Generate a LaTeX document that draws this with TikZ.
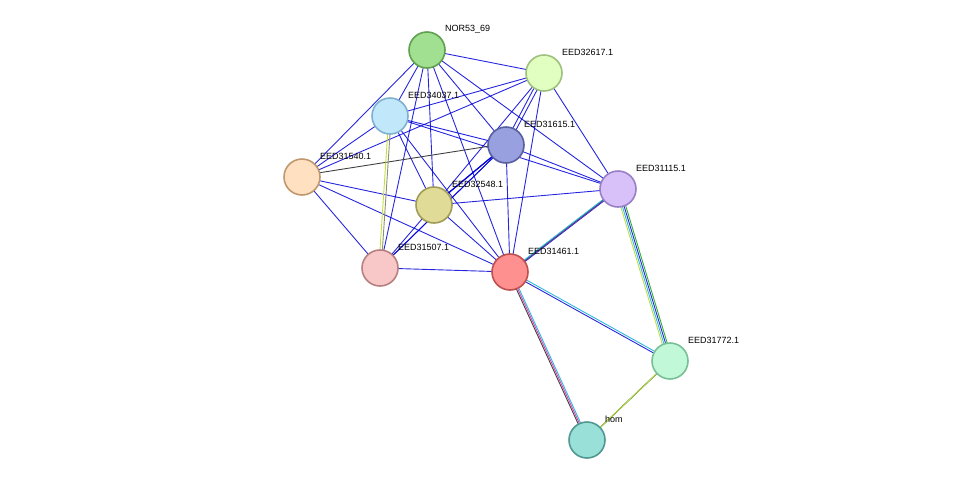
\documentclass[tikz,border=0pt]{standalone}
\usepackage{fontspec}
\setmainfont{Liberation Sans}
\begin{document}
\begin{tikzpicture}[x=1pt,y=-1pt,
  prot/.style={circle,minimum size=36pt,inner sep=0pt,line width=1.6pt},
  lab/.style={font=\fontsize{9}{10}\selectfont,anchor=south west,inner sep=0pt},
  e/.style={blue!85!black,line width=0.9pt,opacity=0.85}]
\useasboundingbox (0,0) rectangle (976,485);
\definecolor{cyanE}{HTML}{30B8E0}
\definecolor{grnE}{HTML}{30B030}
\definecolor{yelE}{HTML}{C0E040}
\definecolor{pinkE}{HTML}{E040B0}
\definecolor{purE}{HTML}{8030C0}
\definecolor{darkE}{HTML}{404040}
\coordinate (pNOR) at (427,50);
\coordinate (p617) at (544,73);
\coordinate (p037) at (390,116);
\coordinate (p615) at (506,145);
\coordinate (p540) at (302,177);
\coordinate (p548) at (434,205);
\coordinate (p115) at (618,189);
\coordinate (p507) at (380,268);
\coordinate (p461) at (510,272);
\coordinate (p772) at (670,361);
\coordinate (phom) at (587,440);
\foreach \a/\b in {NOR/037,NOR/540,NOR/615,NOR/548,NOR/507,NOR/461,NOR/115,NOR/617,
 617/037,617/540,617/548,617/461,617/115,
 037/615,037/115,037/548,037/461,037/540,
 615/548,615/461,615/115,615/507,
 540/548,540/507,540/461,
 548/115,548/461,548/507,507/461}
  \draw[e] (p\a) -- (p\b);
% multi edges
\draw[e,transform canvas={xshift=1.5pt,yshift=-1pt}] (p617) -- (p615);
\draw[e,transform canvas={xshift=-1.5pt,yshift=1pt}] (p617) -- (p615);
\draw[e,transform canvas={xshift=1.5pt,yshift=1.5pt}] (p548) -- (p615);
\draw[e,transform canvas={xshift=-1.5pt,yshift=-1.5pt}] (p548) -- (p615);
\draw[e,transform canvas={xshift=1.5pt,yshift=1.5pt}] (p507) -- (p615);
\draw[darkE,line width=0.9pt,transform canvas={yshift=1.5pt}] (p540) -- (p615);
\draw[yelE,line width=0.9pt,transform canvas={xshift=-1.2pt}] (p037) -- (p507);
\draw[gray!80!olive,line width=0.9pt,transform canvas={xshift=1.2pt}] (p037) -- (p507);
% 461-hom
\draw[darkE,line width=0.9pt,transform canvas={xshift=-1.8pt,yshift=0.8pt}] (p461) -- (phom);
\draw[pinkE,line width=0.9pt] (p461) -- (phom);
\draw[cyanE,line width=0.9pt,transform canvas={xshift=1.8pt,yshift=-0.8pt}] (p461) -- (phom);
% 461-772
\draw[e,transform canvas={xshift=1pt,yshift=-1.7pt}] (p461) -- (p772);
\draw[cyanE,line width=0.9pt,transform canvas={xshift=-1pt,yshift=1.7pt}] (p461) -- (p772);
% 461-115
\draw[e,transform canvas={xshift=-1.8pt,yshift=-2.4pt}] (p461) -- (p115);
\draw[purE,line width=0.9pt,transform canvas={xshift=-0.6pt,yshift=-0.8pt}] (p461) -- (p115);
\draw[darkE,line width=0.9pt,transform canvas={xshift=0.6pt,yshift=0.8pt}] (p461) -- (p115);
\draw[cyanE,line width=0.9pt,transform canvas={xshift=1.8pt,yshift=2.4pt}] (p461) -- (p115);
% 115-772
\draw[yelE,line width=0.9pt,transform canvas={xshift=-2.9pt,yshift=0.9pt}] (p115) -- (p772);
\draw[cyanE,line width=0.9pt,transform canvas={xshift=-1pt,yshift=0.3pt}] (p115) -- (p772);
\draw[e,transform canvas={xshift=1pt,yshift=-0.3pt}] (p115) -- (p772);
\draw[grnE,line width=0.9pt,transform canvas={xshift=2.9pt,yshift=-0.9pt}] (p115) -- (p772);
% 772-hom
\draw[grnE,line width=0.9pt,transform canvas={xshift=-1.4pt,yshift=-1.4pt}] (p772) -- (phom);
\draw[darkE,line width=0.9pt] (p772) -- (phom);
\draw[yelE,line width=0.9pt,transform canvas={xshift=1.4pt,yshift=1.4pt}] (p772) -- (phom);
% nodes
\node[prot,fill={rgb,255:red,160;green,224;blue,144},draw={rgb,255:red,96;green,160;blue,80}] (nor) at (pNOR) {};
\node[prot,fill={rgb,255:red,224;green,255;blue,192},draw={rgb,255:red,160;green,192;blue,128}] (n617) at (p617) {};
\node[prot,fill={rgb,255:red,192;green,232;blue,250},draw={rgb,255:red,128;green,176;blue,208}] (n037) at (p037) {};
\node[prot,fill={rgb,255:red,152;green,160;blue,224},draw={rgb,255:red,88;green,96;blue,160}] (n615) at (p615) {};
\node[prot,fill={rgb,255:red,255;green,224;blue,192},draw={rgb,255:red,192;green,152;blue,112}] (n540) at (p540) {};
\node[prot,fill={rgb,255:red,224;green,220;blue,152},draw={rgb,255:red,160;green,156;blue,88}] (n548) at (p548) {};
\node[prot,fill={rgb,255:red,216;green,192;blue,248},draw={rgb,255:red,152;green,128;blue,200}] (n115) at (p115) {};
\node[prot,fill={rgb,255:red,248;green,200;blue,200},draw={rgb,255:red,184;green,128;blue,128}] (n507) at (p507) {};
\node[prot,fill={rgb,255:red,255;green,144;blue,144},draw={rgb,255:red,192;green,80;blue,80}] (n461) at (p461) {};
\node[prot,fill={rgb,255:red,192;green,248;blue,216},draw={rgb,255:red,120;green,192;blue,150}] (n772) at (p772) {};
\node[prot,fill={rgb,255:red,152;green,224;blue,216},draw={rgb,255:red,80;green,152;blue,144}] (nhom) at (phom) {};
% labels
\node[lab] at (445,33) {NOR53\_69};
\node[lab] at (562,56) {EED32617.1};
\node[lab] at (408,99) {EED34037.1};
\node[lab] at (524,128) {EED31615.1};
\node[lab] at (320,160) {EED31540.1};
\node[lab] at (452,188) {EED32548.1};
\node[lab] at (636,172) {EED31115.1};
\node[lab] at (398,251) {EED31507.1};
\node[lab] at (528,255) {EED31461.1};
\node[lab] at (688,344) {EED31772.1};
\node[lab] at (605,423) {hom};
\end{tikzpicture}
\end{document}
